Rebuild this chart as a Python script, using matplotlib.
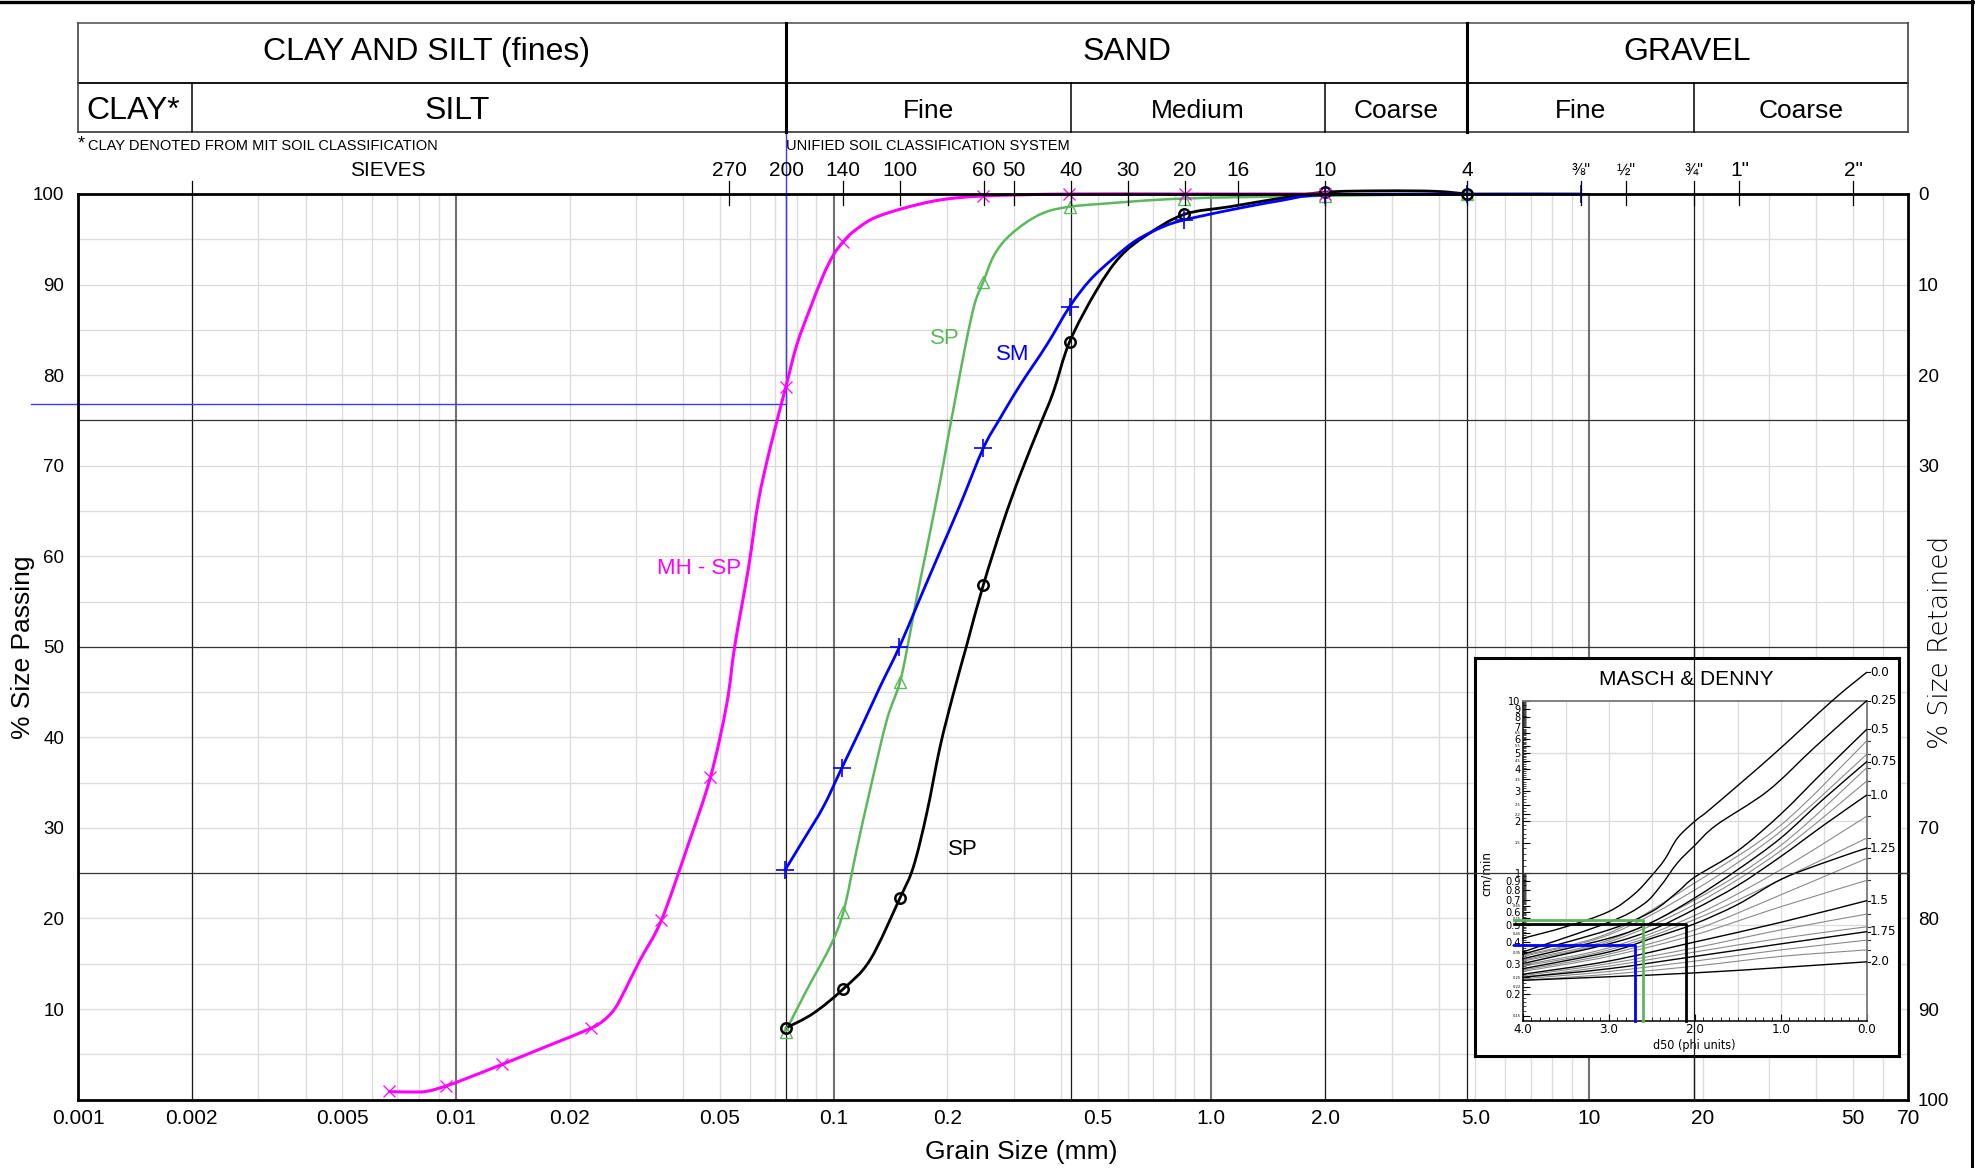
import numpy as np
import matplotlib
matplotlib.use("Agg")
import matplotlib.pyplot as plt
from matplotlib.lines import Line2D
from matplotlib.path import Path
from matplotlib.patches import PathPatch
from matplotlib.ticker import NullFormatter, NullLocator

plt.rcParams['font.family'] = ['Liberation Sans', 'DejaVu Sans']
NARROW = ['Liberation Sans Narrow', 'DejaVu Sans']

# ---------------- axis / label data ----------------
X_TICKS = [0.001, 0.002, 0.005, 0.01, 0.02, 0.05, 0.1, 0.2, 0.5, 1.0, 2.0, 5.0, 10, 20, 50, 70]
X_TICK_LABELS = ['0.001', '0.002', '0.005', '0.01', '0.02', '0.05', '0.1', '0.2', '0.5',
                 '1.0', '2.0', '5.0', '10', '20', '50', '70']
Y_LEFT_TICKS = [10, 20, 30, 40, 50, 60, 70, 80, 90, 100]
Y_RIGHT_TICKS = [0, 10, 20, 30, 70, 80, 90, 100]

SIEVE_MM = [0.053, 0.075, 0.106, 0.15, 0.25, 0.3, 0.425, 0.6, 0.85, 1.18, 2.0, 4.75,
            9.5, 12.5, 19.0, 25.0, 50.0]
SIEVE_LABELS = ['270', '200', '140', '100', '60', '50', '40', '30', '20', '16', '10', '4',
                '⅜"', '½"', '¾"', '1"', '2"']

HEADER_TOP = ['CLAY AND SILT (fines)', 'SAND', 'GRAVEL']
HEADER_TOP_POS = [0.00835, 0.597, 18.2]
HEADER_TOP_BOUNDS = [0.075, 4.75]
HEADER_SUB = ['CLAY*', 'SILT', 'Fine', 'Medium', 'Coarse', 'Fine', 'Coarse']
HEADER_SUB_POS = [0.0014, 0.0101, 0.178, 0.922, 3.08, 9.5, 36.5]
HEADER_SUB_BOUNDS = [0.002, 0.425, 2.0, 19.0]

PASSING_200 = 76.8

# ---------------- curves (grain size mm, % passing) ----------------
# MH - SP (magenta)
MAG_D = [0.00667, 0.00942, 0.01328, 0.02275, 0.035, 0.0472, 0.0747, 0.1057, 0.249, 0.42, 0.85, 2.0]
MAG_P = [0.9, 1.5, 3.9, 7.9, 19.8, 35.6, 78.65, 94.66, 99.8, 100, 100, 100]
MAG_TD = [0.00667, 0.00757, 0.00837, 0.00942, 0.01069, 0.01328, 0.01776, 0.02275, 0.02458,
          0.0264, 0.02834, 0.03074, 0.035, 0.0411, 0.0472, 0.0521, 0.0548, 0.0595, 0.0632,
          0.0679, 0.0747, 0.0799, 0.0867, 0.0940, 0.0999, 0.1057, 0.1128, 0.1275, 0.1531,
          0.1913, 0.249, 0.42, 0.85, 2.0]
MAG_TP = [0.88, 0.84, 0.91, 1.5, 2.35, 3.9, 6.03, 7.87, 8.72, 10.08, 12.47, 15.42, 19.8, 28.0,
          35.6, 43.6, 50.2, 58.67, 66.03, 71.92, 78.65, 83.33, 87.38, 91.06, 93.27, 94.66,
          95.84, 97.31, 98.42, 99.34, 99.78, 100, 100, 100]

# SP (green)
GRN_D = [0.0748, 0.1062, 0.150, 0.249, 0.4228, 0.847, 2.0, 4.75]
GRN_P = [7.5, 20.75, 46.15, 90.3, 98.6, 99.5, 99.8, 100]
GRN_TD = [0.0748, 0.0849, 0.0979, 0.1062, 0.1151, 0.1249, 0.1383, 0.150, 0.1594, 0.1661,
          0.1764, 0.1913, 0.1993, 0.2118, 0.2252, 0.2368, 0.249, 0.2649, 0.2872, 0.3246,
          0.3666, 0.4228, 0.5075, 0.847, 2.0, 4.75]
GRN_TP = [7.6, 12.1, 16.9, 20.75, 27.6, 34.2, 41.9, 46.15, 51.5, 55.5, 60.8, 68.2, 72.3, 78.2,
          84.0, 88.0, 90.3, 93.1, 95.1, 96.9, 98.05, 98.6, 98.9, 99.5, 99.8, 100]

# SM (blue)
BLU_D = [0.0744, 0.1051, 0.1494, 0.249, 0.4217, 0.847, 2.0, 4.75, 9.5]
BLU_P = [25.35, 36.6, 50.0, 71.92, 87.56, 97.13, 99.9, 100, 100]
BLU_TD = [0.0744, 0.0832, 0.094, 0.1051, 0.1175, 0.1328, 0.1494, 0.1694, 0.1913, 0.2162,
          0.249, 0.2759, 0.3117, 0.3666, 0.4217, 0.4776, 0.5506, 0.6347, 0.7467, 0.847,
          1.121, 1.52, 2.0, 4.75, 9.5]
BLU_TP = [25.35, 28.67, 32.35, 36.6, 40.81, 45.6, 50.0, 55.36, 60.51, 65.66, 71.92, 75.23,
          78.9, 83.33, 87.56, 90.5, 92.9, 94.92, 96.4, 97.13, 98.23, 99.26, 99.9, 100, 100]

# SP (black)
BLK_D = [0.0748, 0.1058, 0.150, 0.249, 0.4217, 0.847, 2.0, 4.75]
BLK_P = [7.9, 12.18, 22.3, 56.8, 83.7, 97.75, 100.2, 100]
BLK_TD = [0.0748, 0.0884, 0.1058, 0.1249, 0.150, 0.1627, 0.1764, 0.1914, 0.2077, 0.2252,
          0.249, 0.2815, 0.3117, 0.3521, 0.382, 0.4217, 0.4973, 0.5733, 0.6747, 0.847,
          1.121, 1.52, 2.0, 2.8, 3.9, 4.75]
BLK_TP = [7.9, 9.53, 12.18, 15.42, 22.3, 25.72, 31.6, 38.97, 44.86, 50.2, 56.8, 63.82, 68.97,
          74.5, 78.17, 83.7, 89.4, 93.08, 95.47, 97.75, 98.6, 99.52, 100.2, 100.35, 100.3, 100]

CURVE_LABELS = ['MH - SP', 'SP', 'SM', 'SP']
CURVE_LABEL_D = [0.0441, 0.197, 0.2975, 0.2194]
CURVE_LABEL_P = [58.6, 84.0, 82.3, 27.6]

# ---------------- Masch & Denny inset data (phi, cm/min) ----------------
MD_BLACK_LABELS = ['0.0', '0.25', '0.5', '0.75', '1.0', '1.25', '1.5', '1.75', '2.0']
MD_BLACK_PHI = [
    [4, 3.5, 3.0, 2.7, 2.5, 2.35, 2.2, 2.0, 1.8, 1.1, 0.4, 0.0],
    [4, 3.0, 2.6, 2.4, 2.2, 2.0, 1.75, 1.15, 0.6, 0.0],
    [4, 3.0, 2.5, 2.2, 2.0, 1.5, 1.0, 0.5, 0.0],
    [4, 3.0, 2.5, 2.0, 1.5, 1.0, 0.5, 0.0],
    [4, 3.0, 2.5, 2.0, 1.5, 1.0, 0.5, 0.0],
    [4, 3.0, 2.5, 2.0, 1.5, 1.0, 0.5, 0.0],
    [4, 3.0, 2.0, 1.0, 0.0],
    [4, 3.0, 2.0, 1.0, 0.0],
    [4, 2.0, 0.0],
]
MD_BLACK_V = [
    [0.42, 0.49, 0.60, 0.76, 0.97, 1.2, 1.6, 2.0, 2.4, 4.8, 10.0, 14.6],
    [0.35, 0.52, 0.66, 0.84, 1.15, 1.45, 1.9, 3.0, 5.4, 10.0],
    [0.34, 0.47, 0.60, 0.78, 0.95, 1.35, 2.2, 3.9, 6.82],
    [0.32, 0.42, 0.52, 0.72, 1.05, 1.6, 2.7, 4.43],
    [0.30, 0.39, 0.47, 0.62, 0.85, 1.25, 1.9, 2.84],
    [0.28, 0.35, 0.42, 0.51, 0.66, 0.92, 1.15, 1.40],
    [0.26, 0.31, 0.40, 0.52, 0.694],
    [0.25, 0.28, 0.33, 0.39, 0.459],
    [0.24, 0.265, 0.307],
]
MD_GRAY_PHI = [4, 3, 2, 1, 0]
MD_GRAY_V = [
    [0.335, 0.45, 0.88, 1.9, 5.85],
    [0.33, 0.44, 0.80, 1.75, 4.89],
    [0.315, 0.41, 0.70, 1.45, 4.09],
    [0.31, 0.40, 0.66, 1.35, 3.42],
    [0.295, 0.37, 0.57, 1.05, 2.14],
    [0.29, 0.36, 0.54, 0.92, 1.60],
    [0.275, 0.34, 0.47, 0.75, 1.22],
    [0.27, 0.33, 0.44, 0.64, 0.91],
    [0.255, 0.30, 0.37, 0.47, 0.58],
    [0.25, 0.29, 0.35, 0.42, 0.49],
    [0.245, 0.27, 0.31, 0.36, 0.41],
    [0.24, 0.26, 0.29, 0.33, 0.36],
]
MD_SEL_V = [0.537, 0.508, 0.383]
MD_SEL_PHI = [2.6, 2.1, 2.7]
MD_SEL_COLORS = ['#5cb85c', 'black', '#0000ff']
MD_Y_BIG = [0.2, 0.3, 0.4, 0.5, 0.6, 0.7, 0.8, 0.9, 1, 2, 3, 4, 5, 6, 7, 8, 9, 10]
MD_Y_BIG_LAB = ['0.2', '0.3', '0.4', '0.5', '0.6', '0.7', '0.8', '0.9', '1', '2', '3', '4',
                '5', '6', '7', '8', '9', '10']
MD_Y_SMALL = [0.15, 0.22, 0.25, 0.35, 0.45, 0.55, 0.65, 1.5, 2.2, 2.5, 3.5, 4.5, 5.5, 6.5]
MD_X_TICKS = [4.0, 3.0, 2.0, 1.0, 0.0]


# ---------------- helpers ----------------
def smooth_path(xs, ys, logx=False, logy=False):
    """Bezier path (Catmull-Rom style) through the given points, built in the
    axes' scale space so the drawn line passes smoothly through every point."""
    X = np.log10(np.asarray(xs, float)) if logx else np.asarray(xs, float)
    Y = np.log10(np.asarray(ys, float)) if logy else np.asarray(ys, float)
    P = np.column_stack([X, Y])
    n = len(P)
    verts = [P[0]]
    codes = [Path.MOVETO]
    for i in range(n - 1):
        p0 = P[i - 1] if i > 0 else P[i]
        p1, p2 = P[i], P[i + 1]
        p3 = P[i + 2] if i + 2 < n else P[i + 1]
        verts += [p1 + (p2 - p0) / 6.0, p2 - (p3 - p1) / 6.0, p2]
        codes += [Path.CURVE4] * 3
    V = np.array(verts)
    if logx:
        V[:, 0] = 10 ** V[:, 0]
    if logy:
        V[:, 1] = 10 ** V[:, 1]
    return Path(V, codes)


def draw_smooth(axis, xs, ys, color, lw, zorder, logx=False, logy=False, clip=False):
    patch = PathPatch(smooth_path(xs, ys, logx, logy), facecolor='none', edgecolor=color,
                      lw=lw, zorder=zorder, capstyle='round', joinstyle='round')
    axis.add_patch(patch)
    patch.set_clip_on(clip)
    return patch


# ---------------- figure ----------------
W, H = 1975.0, 1168.0
fig = plt.figure(figsize=(W / 100, H / 100), dpi=100)
fig.patch.set_facecolor('white')


def fx(p):
    return p / W


def fy(p):
    return 1.0 - p / H


L, R, T, B = 78.1, 1908.3, 194.0, 1099.6
ax = fig.add_axes([fx(L), fy(B), (R - L) / W, (B - T) / H])
ax.set_xscale('log')
ax.set_xlim(0.001, 70)
ax.set_ylim(0, 100)

# grid lines
for dec in [0.001, 0.01, 0.1, 1.0, 10.0]:
    for m in range(2, 10):
        v = dec * m
        if v < 70:
            ax.axvline(v, color='#dcdcdc', lw=1.0, zorder=0.5)
for v in [0.01, 0.1, 1.0, 10.0]:
    ax.axvline(v, color='#707070', lw=1.5, zorder=0.6)
for v in [0.002, 0.075, 0.425, 2.0, 4.75, 19.0]:
    ax.axvline(v, color='#1a1a1a', lw=0.9, zorder=0.7)
for p in range(5, 100, 5):
    if p % 25:
        ax.axhline(p, color='#dcdcdc', lw=1.0, zorder=0.5)
    else:
        ax.axhline(p, color='#333333', lw=0.9, zorder=0.7)

for s in ax.spines.values():
    s.set_linewidth(2.0)
    s.set_zorder(6)

ax.set_xticks(X_TICKS, X_TICK_LABELS)
ax.xaxis.set_minor_locator(NullLocator())
ax.xaxis.set_minor_formatter(NullFormatter())
ax.set_yticks(Y_LEFT_TICKS)
ax.tick_params(axis='x', which='both', length=0, pad=7, labelsize=15)
ax.tick_params(axis='y', which='both', length=0, pad=10, labelsize=13.5)

tw = ax.twinx()
tw.set_ylim(100, 0)
tw.set_yticks(Y_RIGHT_TICKS)
tw.tick_params(axis='y', length=0, pad=7, labelsize=13.5)
for s in tw.spines.values():
    s.set_visible(False)

# sieve ticks & labels
for s, lab in zip(SIEVE_MM, SIEVE_LABELS):
    if lab != '200':
        ax.plot([s, s], [98.8, 101.4], color='black', lw=0.9, clip_on=False, zorder=6)
    fs = 11.5 if lab in ('⅜"', '½"', '¾"') else 15
    ax.text(s, 102.6, lab, ha='center', va='center', fontsize=fs, clip_on=False)
ax.plot([0.002, 0.002], [100, 101.4], color='black', lw=0.9, clip_on=False, zorder=6)
ax.text(0.0066, 102.6, 'SIEVES', ha='center', va='center', fontsize=15)
ax.text(0.001, 105.5, '*', ha='left', va='center', fontsize=13)
ax.text(0.00106, 105.3, 'CLAY DENOTED FROM MIT SOIL CLASSIFICATION', ha='left', va='center',
        fontsize=10.5)
ax.text(0.075, 105.3, 'UNIFIED SOIL CLASSIFICATION SYSTEM', ha='left', va='center', fontsize=10.5)

# #200 reference lines
ax.plot([0.00075, 0.075], [PASSING_200, PASSING_200], color='#3b3bff', lw=1.0, clip_on=False,
        zorder=1)
ax.plot([0.075, 0.075], [PASSING_200, 106.8], color='#3b3bff', lw=1.0, clip_on=False, zorder=1)

# curves
draw_smooth(ax, GRN_TD, GRN_TP, '#5cb85c', 1.8, 3.0, logx=True)
ax.plot(GRN_D, GRN_P, ls='none', marker='^', mfc='none', mec='#5cb85c', ms=8, mew=1.0,
        zorder=4, clip_on=False)
draw_smooth(ax, BLK_TD, BLK_TP, 'black', 2.0, 3.05, logx=True)
ax.plot(BLK_D, BLK_P, ls='none', marker='o', mfc='none', mec='black', ms=7.5, mew=1.8,
        zorder=4, clip_on=False)
draw_smooth(ax, BLU_TD, BLU_TP, '#0000ff', 2.0, 3.2, logx=True)
ax.plot(BLU_D, BLU_P, ls='none', marker='+', mec='#0000ff', ms=13, mew=1.2, zorder=4,
        clip_on=False)
draw_smooth(ax, MAG_TD, MAG_TP, '#ff00ff', 2.2, 3.1, logx=True)
ax.plot(MAG_D, MAG_P, ls='none', marker='x', mec='#ff00ff', ms=9, mew=0.9, zorder=4,
        clip_on=False)

for lab, d, p, c in zip(CURVE_LABELS, CURVE_LABEL_D, CURVE_LABEL_P,
                        ['#ff00ff', '#5cb85c', '#0000ff', 'black']):
    ax.text(d, p, lab, color=c, fontsize=16, ha='center', va='center', zorder=5)

# axis titles
fig.text(fx(1021.6), fy(1152.5), 'Grain Size (mm)', ha='center', va='center', fontsize=19)
fig.text(fx(22.7), fy(647), '% Size Passing', ha='center', va='center', fontsize=19,
         rotation=90)
fig.text(fx(1940), fy(642), '% Size Retained', ha='center', va='center', fontsize=19,
         rotation=90, family=['DejaVu Sans'], fontweight='light')

# ---------------- header table ----------------
HT, HB = 22.7, 132.3
hax = fig.add_axes([fx(L), fy(HB), (R - L) / W, (HB - HT) / H])
hax.set_xscale('log')
hax.set_xlim(0.001, 70)
hax.set_ylim(0, 1)
hax.axis('off')
SPLIT = 0.447
hax.plot([0.001, 70], [1, 1], color='#666666', lw=1.3, clip_on=False)
hax.plot([0.001, 70], [0, 0], color='#444444', lw=1.3, clip_on=False)
hax.plot([0.001, 70], [SPLIT, SPLIT], color='black', lw=1.3, clip_on=False)
hax.plot([0.001, 0.001], [0, 1], color='#444444', lw=1.2, clip_on=False)
hax.plot([70, 70], [0, 1], color='#444444', lw=1.2, clip_on=False)
for b in HEADER_TOP_BOUNDS:
    hax.plot([b, b], [0, 1], color='black', lw=2.2, clip_on=False)
for b in HEADER_SUB_BOUNDS:
    hax.plot([b, b], [0, SPLIT], color='black', lw=1.1, clip_on=False)
for lab, x in zip(HEADER_TOP, HEADER_TOP_POS):
    hax.text(x, (1 + SPLIT) / 2 + 0.005, lab, ha='center', va='center', fontsize=23)
for lab, x in zip(HEADER_SUB, HEADER_SUB_POS):
    fs = 23 if lab in ('CLAY*', 'SILT') else 19
    hax.text(x, SPLIT / 2 - 0.025, lab, ha='center', va='center', fontsize=fs)

# ---------------- Masch & Denny inset ----------------
box = fig.add_axes([fx(1475), fy(1056), (1899 - 1475) / W, (1056 - 658) / H], zorder=2)
box.set_facecolor('white')
box.set_xticks([])
box.set_yticks([])
for s in box.spines.values():
    s.set_linewidth(2.2)
    s.set_color('black')
fig.text(fx(1686.7), fy(679.3), 'MASCH & DENNY', ha='center', va='center', fontsize=15,
         zorder=5)

IL, IR, IT, IB = 1522.7, 1866.7, 700.7, 1020.7
inax = fig.add_axes([fx(IL), fy(IB), (IR - IL) / W, (IB - IT) / H], zorder=3)
inax.set_facecolor('white')
inax.set_yscale('log')
inax.set_xlim(4, 0)
inax.set_ylim(0.14, 10)
for g in [3.5, 3.0, 2.5, 1.5, 1.0, 0.5]:
    inax.axvline(g, color='#dddddd', lw=1.0, zorder=0.5)
for g in [5, 2, 0.5, 0.2]:
    inax.axhline(g, color='#dddddd', lw=1.0, zorder=0.5)
for k in ['top', 'right']:
    inax.spines[k].set_color('#777777')
    inax.spines[k].set_linewidth(1.3)
for k in ['left', 'bottom']:
    inax.spines[k].set_color('black')
    inax.spines[k].set_linewidth(1.1)

inax.set_yticks(MD_Y_BIG + MD_Y_SMALL, MD_Y_BIG_LAB + [str(v) for v in MD_Y_SMALL])
for lbl, v in zip(inax.get_yticklabels(), MD_Y_BIG + MD_Y_SMALL):
    lbl.set_fontsize(7.8 if v in MD_Y_BIG else 3.0)
    lbl.set_family(NARROW)
    lbl.set_fontstretch('condensed')
inax.set_yticks(list(np.arange(0.15, 1.0, 0.01)) + list(np.arange(1.1, 10.0, 0.1)), minor=True)
inax.yaxis.set_minor_formatter(NullFormatter())
inax.tick_params(axis='y', which='major', direction='in', length=5, width=0.8, pad=1.5)
inax.tick_params(axis='y', which='minor', direction='in', length=2, width=0.5)
inax.set_xticks(MD_X_TICKS, ['4.0', '3.0', '2.0', '1.0', '0.0'])
inax.set_xticks(list(np.arange(0.1, 4.0, 0.1)), minor=True)
inax.tick_params(axis='x', which='major', direction='in', length=5, width=0.8, pad=2,
                 labelsize=9.5)
inax.tick_params(axis='x', which='minor', direction='in', length=3, width=0.6)
for lbl in inax.get_xticklabels():
    lbl.set_family(NARROW)
    lbl.set_fontstretch('condensed')
inax.text(0.5, -0.078, 'd50 (phi units)', transform=inax.transAxes, ha='center', va='center',
          fontsize=9, family=NARROW, fontstretch='condensed')
inax.text(-0.107, 0.46, 'cm/min', transform=inax.transAxes, ha='center', va='center',
          fontsize=9.5, rotation=90, family=NARROW, fontstretch='condensed')

for gv in MD_GRAY_V:
    draw_smooth(inax, MD_GRAY_PHI, gv, '#8a8a8a', 0.8, 2, logy=True, clip=True)
    inax.plot([0, -0.04], [gv[-1], gv[-1]], color='#333333', lw=0.8, clip_on=False)
for lab, ph, vv in zip(MD_BLACK_LABELS, MD_BLACK_PHI, MD_BLACK_V):
    draw_smooth(inax, ph, vv, 'black', 1.0, 3, logy=True, clip=False)
    inax.plot([0, -0.04], [vv[-1], vv[-1]], color='black', lw=0.8, clip_on=False)
    inax.text(-0.04, vv[-1], lab, ha='left', va='center', fontsize=9.5, family=NARROW,
              fontstretch='condensed', clip_on=False)
for v, ph, c in zip(MD_SEL_V, MD_SEL_PHI, MD_SEL_COLORS):
    inax.plot([4.1, ph, ph], [v, v, 0.14], color=c, lw=2.0, zorder=4, clip_on=False)

# main-chart boundary lines drawn over the inset
fig.add_artist(Line2D([19.0, 19.0], [0, 50], transform=ax.transData, color='#1a1a1a', lw=0.9,
                      zorder=4))
fig.add_artist(Line2D([4.75, 70], [25, 25], transform=ax.transData, color='#333333', lw=0.9,
                      zorder=4))

# page border
fig.add_artist(Line2D([0, 1], [fy(1.5), fy(1.5)], transform=fig.transFigure, color='black',
                      lw=2.4, zorder=10))
fig.add_artist(Line2D([fx(1971.5), fx(1971.5)], [0, 1], transform=fig.transFigure,
                      color='black', lw=2.2, zorder=10))

fig.savefig('out.png', dpi=100, facecolor='white')
